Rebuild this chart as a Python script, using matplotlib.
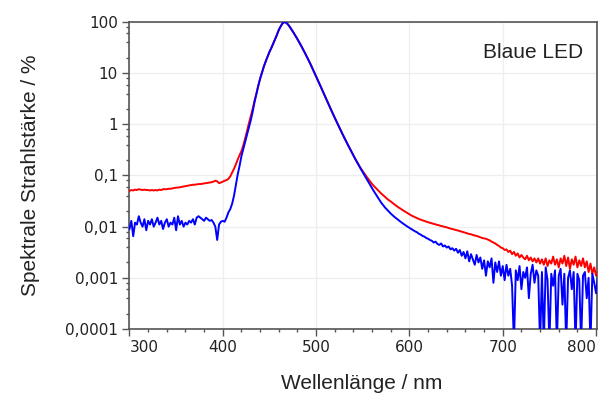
import numpy as np
import matplotlib
matplotlib.use("Agg")
import matplotlib.pyplot as plt
from matplotlib.ticker import FixedLocator, LogLocator, MultipleLocator, NullFormatter

# wavelength sampling grid (nm), 300 ... 802 in 2 nm steps
wavelength = np.arange(300, 803, 2)

# red curve (Spektrale Strahlstärke / %)
red = [
    0.050, 0.052, 0.051, 0.053, 0.052, 0.054, 0.053, 0.052, 0.053, 0.052,   # 300
    0.052, 0.051, 0.052, 0.051, 0.052, 0.051, 0.053, 0.052, 0.054, 0.054,   # 320
    0.054, 0.055, 0.055, 0.056, 0.057, 0.058, 0.058, 0.059, 0.060, 0.061,   # 340
    0.062, 0.063, 0.064, 0.065, 0.066, 0.066, 0.067, 0.068, 0.068, 0.069,   # 360
    0.070, 0.071, 0.072, 0.073, 0.074, 0.076, 0.079, 0.077, 0.071, 0.073,   # 380
    0.076, 0.079, 0.081, 0.086, 0.096, 0.114, 0.135, 0.165, 0.205, 0.25,    # 400
    0.30, 0.39, 0.53, 0.75, 1.05, 1.45, 2.0, 2.9, 4.0, 5.7,                 # 420
    7.8, 10.3, 13.5, 17, 21, 26, 31, 38, 46, 56,                             # 440
    70, 82, 94, 100, 96.6, 89.1, 79.4, 70.0, 61.2, 53.3,                     # 460
    46.2, 39.9, 34.3, 29.3, 24.9, 21.1, 17.8, 15.0, 12.5, 10.4,              # 480
    8.67, 7.19, 5.96, 4.93, 4.08, 3.38, 2.80, 2.32, 1.93, 1.60,              # 500
    1.34, 1.12, 0.935, 0.785, 0.661, 0.557, 0.471, 0.399, 0.339, 0.288,      # 520
    0.246, 0.210, 0.181, 0.157, 0.137, 0.121, 0.107, 0.095, 0.085, 0.076,    # 540
    0.068, 0.062, 0.057, 0.052, 0.048, 0.044, 0.041, 0.038, 0.035, 0.033,    # 560
    0.031, 0.029, 0.027, 0.0255, 0.024, 0.0228, 0.0215, 0.0204, 0.0193, 0.0183,  # 580
    0.0174, 0.0166, 0.0159, 0.0153, 0.0147, 0.0142, 0.0137, 0.0133, 0.0129, 0.0125,  # 600
    0.0122, 0.0119, 0.0116, 0.0113, 0.0110, 0.0108, 0.0106, 0.0103, 0.0101, 0.0099,  # 620
    0.0097, 0.0094, 0.0092, 0.0090, 0.0088, 0.0086, 0.0084, 0.0082, 0.0080, 0.0078,  # 640
    0.0076, 0.0074, 0.0072, 0.0071, 0.0069, 0.0067, 0.0066, 0.0064, 0.0062, 0.0060,  # 660
    0.0059, 0.0058, 0.0056, 0.0054, 0.0051, 0.0049, 0.0047, 0.0044, 0.0042, 0.0039,  # 680
    0.0038, 0.0035, 0.0036, 0.0032, 0.0034, 0.0029, 0.0032, 0.0027, 0.0030, 0.0025,  # 700
    0.0028, 0.0025, 0.0023, 0.0027, 0.0022, 0.0025, 0.0021, 0.0024, 0.0020, 0.0024,  # 720
    0.0019, 0.0023, 0.0018, 0.0024, 0.0017, 0.0022, 0.0019, 0.0026, 0.0018, 0.0023,  # 740
    0.0016, 0.0024, 0.0019, 0.0027, 0.0017, 0.0025, 0.0015, 0.0023, 0.0018, 0.0026,  # 760
    0.0016, 0.0022, 0.0017, 0.0024, 0.0016, 0.0021, 0.0013, 0.0019, 0.0012, 0.0016,  # 780
    0.0011, 0.0014,                                                                  # 800
]

# blue curve (values below 0.0001 are off the chart)
blue = [
    0.009, 0.013, 0.0065, 0.012, 0.011, 0.016, 0.012, 0.010, 0.014, 0.0085,  # 300
    0.013, 0.011, 0.014, 0.010, 0.012, 0.015, 0.011, 0.013, 0.009, 0.012,    # 320
    0.014, 0.010, 0.012, 0.011, 0.015, 0.0085, 0.016, 0.011, 0.013, 0.010,   # 340
    0.012, 0.011, 0.013, 0.012, 0.014, 0.011, 0.015, 0.016, 0.015, 0.014,    # 360
    0.013, 0.015, 0.014, 0.013, 0.0135, 0.012, 0.010, 0.0055, 0.011, 0.0125, # 380
    0.013, 0.0125, 0.015, 0.019, 0.022, 0.028, 0.040, 0.065, 0.105, 0.155,   # 400
    0.24, 0.33, 0.45, 0.62, 0.85, 1.2, 1.75, 2.7, 3.9, 5.6,                  # 420
    7.8, 10.3, 13.5, 17, 21, 26, 31, 38, 46, 56,                             # 440
    70, 82, 94, 100, 96.6, 89.1, 79.4, 70.0, 61.2, 53.3,                     # 460
    46.2, 39.9, 34.3, 29.3, 24.9, 21.1, 17.8, 15.0, 12.5, 10.4,              # 480
    8.67, 7.19, 5.96, 4.93, 4.08, 3.38, 2.80, 2.32, 1.93, 1.60,              # 500
    1.34, 1.12, 0.935, 0.785, 0.661, 0.557, 0.471, 0.399, 0.339, 0.288,      # 520
    0.246, 0.210, 0.180, 0.155, 0.133, 0.115, 0.0995, 0.086, 0.075, 0.065,   # 540
    0.056, 0.049, 0.043, 0.038, 0.033, 0.029, 0.026, 0.0235, 0.0215, 0.0197, # 560
    0.018, 0.0167, 0.0155, 0.0145, 0.0135, 0.0127, 0.0119, 0.0112, 0.0106, 0.0100,  # 580
    0.0095, 0.0090, 0.0086, 0.0081, 0.0078, 0.0073, 0.0070, 0.0066, 0.0064, 0.0060,  # 600
    0.0058, 0.0055, 0.0053, 0.0049, 0.0051, 0.0046, 0.0044, 0.0047, 0.0041, 0.0043,  # 620
    0.0039, 0.0041, 0.0036, 0.0038, 0.0034, 0.0037, 0.0031, 0.0035, 0.0027, 0.0032,  # 640
    0.0024, 0.0033, 0.0021, 0.0029, 0.0023, 0.0018, 0.0028, 0.0020, 0.0025, 0.0015,  # 660
    0.0022, 0.0011, 0.0021, 0.0016, 0.0024, 0.0008, 0.0020, 0.0013, 0.0021, 0.0011,  # 680
    0.0017, 0.0009, 0.0018, 0.0011, 0.0015, 0.0007, 0.00005, 0.0014, 0.0009, 0.0017, # 700
    0.0006, 0.0013, 0.0010, 0.0016, 0.0004, 0.0012, 0.0018, 0.0008, 0.0014, 0.0011,  # 720
    0.00005, 0.0013, 0.00005, 0.0016, 0.0009, 0.00005, 0.0012, 0.0007, 0.0014, 0.00005,  # 740
    0.0011, 0.0015, 0.0003, 0.0012, 0.00005, 0.0010, 0.0014, 0.0006, 0.0013, 0.00005,  # 760
    0.0012, 0.0009, 0.00005, 0.0011, 0.0013, 0.0004, 0.0010, 0.00005, 0.0012, 0.0008,  # 780
    0.0005, 0.0011,                                                                    # 800
]

x_ticks = [300, 400, 500, 600, 700, 800]
x_tick_labels = ["300", "400", "500", "600", "700", "800"]
y_ticks = [0.0001, 0.001, 0.01, 0.1, 1, 10, 100]
y_tick_labels = ["0,0001", "0,001", "0,01", "0,1", "1", "10", "100"]

title_text = "Blaue LED"
x_label = "Wellenlänge / nm"
y_label = "Spektrale Strahlstärke / %"

fig = plt.figure(figsize=(6.04, 3.98), dpi=100)
ax = fig.add_axes([129 / 604, 1 - 329 / 398, 468 / 604, 307 / 398])

ax.plot(wavelength, red, color="#ff0000", lw=1.4, zorder=3)
ax.plot(wavelength, blue, color="#0000ff", lw=1.4, zorder=4)

ax.set_yscale("log")
ax.set_xlim(299.5, 801)
ax.set_ylim(0.0001, 100)

ax.yaxis.set_major_locator(FixedLocator(y_ticks))
ax.set_yticklabels(y_tick_labels)
ax.yaxis.set_minor_locator(LogLocator(base=10, subs=(2, 4, 6, 8)))
ax.yaxis.set_minor_formatter(NullFormatter())

ax.set_xticks(x_ticks)
ax.set_xticklabels(x_tick_labels)
ax.xaxis.set_minor_locator(MultipleLocator(20))
xl = ax.get_xticklabels()
xl[0].set_ha("left")
xl[-1].set_ha("right")

ax.grid(True, which="major", color="#eeeeee", lw=0.9, zorder=0)
ax.set_axisbelow(True)

spine_col = "#555555"
for s in ax.spines.values():
    s.set_color(spine_col)
    s.set_linewidth(1.2)

ax.tick_params(which="major", direction="out", length=5, width=1.0,
               color=spine_col, labelsize=11, labelcolor="#222222", pad=3)
ax.tick_params(which="minor", direction="out", length=2.5, width=1.0,
               color=spine_col)
for lab in ax.get_xticklabels() + ax.get_yticklabels():
    lab.set_family("DejaVu Sans")

ax.set_xlabel(x_label, fontsize=15, family="Liberation Sans", color="#222222")
ax.set_ylabel(y_label, fontsize=15, family="Liberation Sans", color="#222222")
ax.xaxis.set_label_coords(0.498, -0.176)
ax.xaxis.label.set_va("center")
ax.yaxis.set_label_coords(-0.2115, 0.5)
ax.yaxis.label.set_va("center")

ax.text(0.970, 0.902, title_text, transform=ax.transAxes, ha="right", va="center",
        fontsize=15, family="Liberation Sans", color="#222222")

fig.savefig("out.png", dpi=100)
